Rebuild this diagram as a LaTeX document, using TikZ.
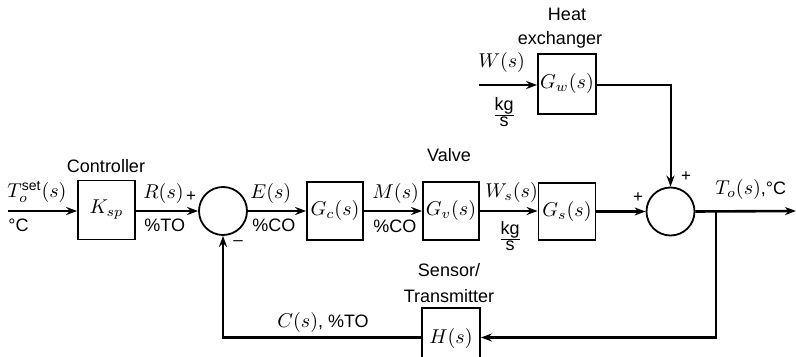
\documentclass[tikz,border=0pt]{standalone}
\usepackage[no-math]{fontspec}
\newfontfamily\lbl{Liberation Sans}
\usetikzlibrary{arrows.meta}
\begin{document}
\begin{tikzpicture}[x=0.5pt,y=-0.5pt,
  blk/.style={draw,line width=0.9pt,inner sep=0pt,font=\fontsize{9.6}{11}\selectfont},
  sumc/.style={draw,circle,line width=0.9pt,minimum size=24pt,inner sep=0pt},
  conn/.style={line width=1.3pt,-{Stealth[length=5.5pt,width=4pt]}},
  thin/.style={line width=1pt,-{Stealth[length=5.5pt,width=4pt]}},
  txt/.style={font=\lbl\fontsize{9}{10.5}\selectfont,inner sep=0pt},
  mth/.style={font=\fontsize{9.6}{11}\selectfont,inner sep=0pt},
  sgn/.style={font=\lbl\fontsize{8.5}{9}\selectfont,inner sep=0pt}]
\useasboundingbox (0,0) rectangle (796,357);

% blocks
\node[blk,minimum width=28.5pt,minimum height=29.5pt] (ksp) at (106.5,210) {$K_{sp}$};
\node[sumc] (s1) at (223,211) {};
\node[blk,minimum width=28pt,minimum height=29pt] (gc) at (335,211) {$G_c(s)$};
\node[blk,minimum width=28pt,minimum height=29pt] (gv) at (451,211) {$G_v(s)$};
\node[blk,minimum width=28.5pt,minimum height=28.5pt] (gs) at (567,211.5) {$G_s(s)$};
\node[sumc] (s2) at (670.5,211.5) {};
\node[blk,minimum width=29pt,minimum height=30pt] (gw) at (567,84) {$G_w(s)$};
\node[blk,minimum width=29pt,minimum height=30pt] (h) at (451,338) {$H(s)$};

% free ends
\coordinate (in) at (8,211);
\coordinate (out) at (796,211);
\coordinate (win) at (479,85);
\coordinate (br) at (716,211);

% connectors
\draw[conn] (in) -- (ksp.west |- in);
\draw[conn] (ksp.east |- s1.west) -- (s1.west);
\draw[conn] (s1.east) -- (gc.west |- s1.east);
\draw[conn] (gc.east |- s1.east) -- (gv.west |- s1.east);
\draw[conn] (gv.east |- s1.east) -- (gs.west |- s1.east);
\draw[conn] (gs.east |- s2.west) -- (s2.west);
\draw[conn] (s2.east) -- (out);
\draw[thin] (win) -- (gw.west |- win);
\draw[thin] (gw.east |- win) -| (s2.north);
\draw[conn] (br) |- (h.east |- 0,337.5);
\draw[conn] (h.west |- 0,337.5) -| (s1.south);

% labels
\node[txt] at (106,166) {Controller};
\node[mth,anchor=base west] at (7,198) {$T_o^{\hbox{\lbl\fontsize{7}{8}\selectfont set}}(s)$};
\node[txt,anchor=base west] at (8,232) {°C};
\node[mth,anchor=base west] at (143,199) {$R(s)$};
\node[sgn] at (191,197) {+};
\node[txt,anchor=base west] at (144,232) {\%TO};
\node[sgn] at (238,243) {–};
\node[mth,anchor=base west] at (250,199) {$E(s)$};
\node[txt,anchor=base west] at (252,232) {\%CO};
\node[mth,anchor=base west] at (372,199) {$M(s)$};
\node[txt,anchor=base west] at (373,233) {\%CO};
\node[txt] at (449,155) {Valve};
\node[mth,anchor=base west] at (485,198) {$W_s(s)$};
\node[txt] at (510,236) {$\frac{\mbox{kg}}{\mbox{s}}$};
\node[sgn] at (638,198) {+};
\node[sgn] at (686,177) {+};
\node[mth,anchor=base west] at (715,195) {$T_o(s)$\lbl\fontsize{9}{10.5}\selectfont,°C};
\node[txt] at (567,14) {Heat};
\node[txt,anchor=base] at (560,45) {exchanger};
\node[mth,anchor=base west] at (478,68) {$W(s)$};
\node[txt] at (504,112) {$\frac{\mbox{kg}}{\mbox{s}}$};
\node[txt] at (449,270) {Sensor/};
\node[txt,anchor=base] at (449,302) {Transmitter};
\node[mth,anchor=base west] at (277,327) {$C(s)$\lbl\fontsize{9}{10.5}\selectfont, \%TO};
\end{tikzpicture}
\end{document}
